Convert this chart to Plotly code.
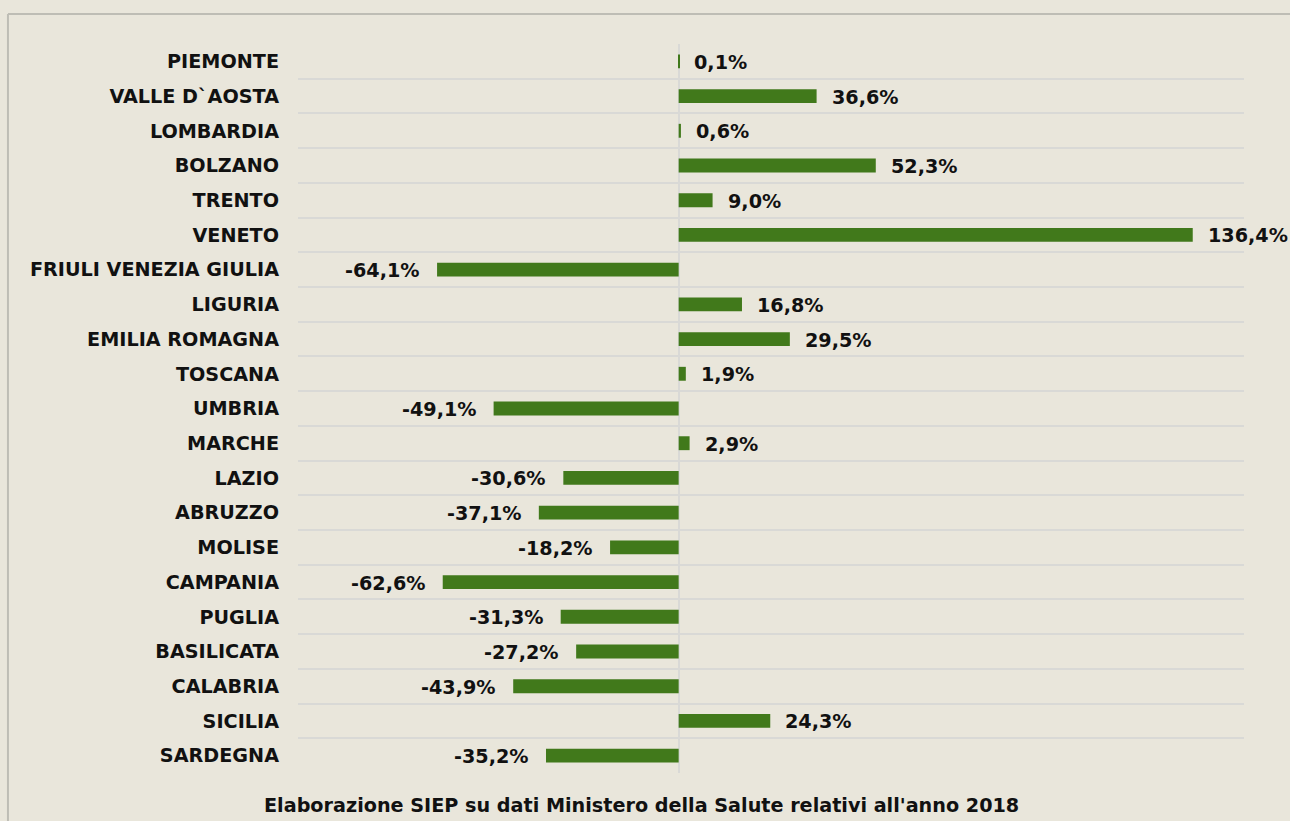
import plotly.graph_objects as go

regions = ["PIEMONTE", "VALLE D`AOSTA", "LOMBARDIA", "BOLZANO", "TRENTO", "VENETO",
           "FRIULI VENEZIA GIULIA", "LIGURIA", "EMILIA ROMAGNA", "TOSCANA", "UMBRIA",
           "MARCHE", "LAZIO", "ABRUZZO", "MOLISE", "CAMPANIA", "PUGLIA", "BASILICATA",
           "CALABRIA", "SICILIA", "SARDEGNA"]
values = [0.1, 36.6, 0.6, 52.3, 9.0, 136.4, -64.1, 16.8, 29.5, 1.9, -49.1, 2.9,
          -30.6, -37.1, -18.2, -62.6, -31.3, -27.2, -43.9, 24.3, -35.2]
caption = "Elaborazione SIEP su dati Ministero della Salute relativi all'anno 2018"

BG = "#E9E6DB"
BAR = "#41791B"
GRID = "#D9D9D6"
FONT = "DejaVu Sans"
FS = 19.2

def fmt(v):
    return f"{v:.1f}".replace(".", ",") + "%"

fig = go.Figure(go.Bar(
    x=values, y=regions, orientation="h",
    marker=dict(color=BAR, line=dict(width=0)),
    hoverinfo="skip",
))

for r, v in zip(regions, values):
    fig.add_annotation(
        x=v, y=r, xref="x", yref="y", text="<b>" + fmt(v) + "</b>",
        showarrow=False, xanchor="left" if v >= 0 else "right",
        xshift=13 if v >= 0 else -15, yshift=-1,
        font=dict(family=FONT, size=FS, color="#111111"),
    )

fig.add_annotation(
    x=0.3626, y=-0.045, xref="paper", yref="paper", yanchor="middle",
    text="<b>" + caption + "</b>", showarrow=False,
    font=dict(family=FONT, size=FS, color="#111111"),
)

# frame lines
fig.add_shape(type="line", xref="paper", yref="paper", x0=-0.3066, x1=1.06,
              y0=1.041, y1=1.041, line=dict(color="#BEBDB5", width=2))
fig.add_shape(type="line", xref="paper", yref="paper", x0=-0.3066, x1=-0.3066,
              y0=1.041, y1=-0.1, line=dict(color="#BEBDB5", width=2))

fig.update_layout(
    width=1290, height=821,
    margin=dict(l=298, r=46, t=44, b=48),
    paper_bgcolor=BG, plot_bgcolor=BG,
    bargap=0.6, showlegend=False,
    xaxis=dict(range=[-101, 150], showgrid=False, showticklabels=False,
               zeroline=True, zerolinecolor=GRID, zerolinewidth=2, fixedrange=True),
    yaxis=dict(categoryorder="array", categoryarray=regions, autorange="reversed",
               showgrid=True, gridcolor=GRID, gridwidth=2, tickson="boundaries",
               ticks="", ticklabelstandoff=18,
               tickfont=dict(family=FONT, size=FS, color="#111111", weight="bold"),
               showline=False, zeroline=False),
)

fig.write_html(
    "out.html",
    config={"displayModeBar": False},
    post_script="document.body.style.margin='0';document.body.style.overflow='hidden';"
                "document.body.style.background='" + BG + "';",
)
